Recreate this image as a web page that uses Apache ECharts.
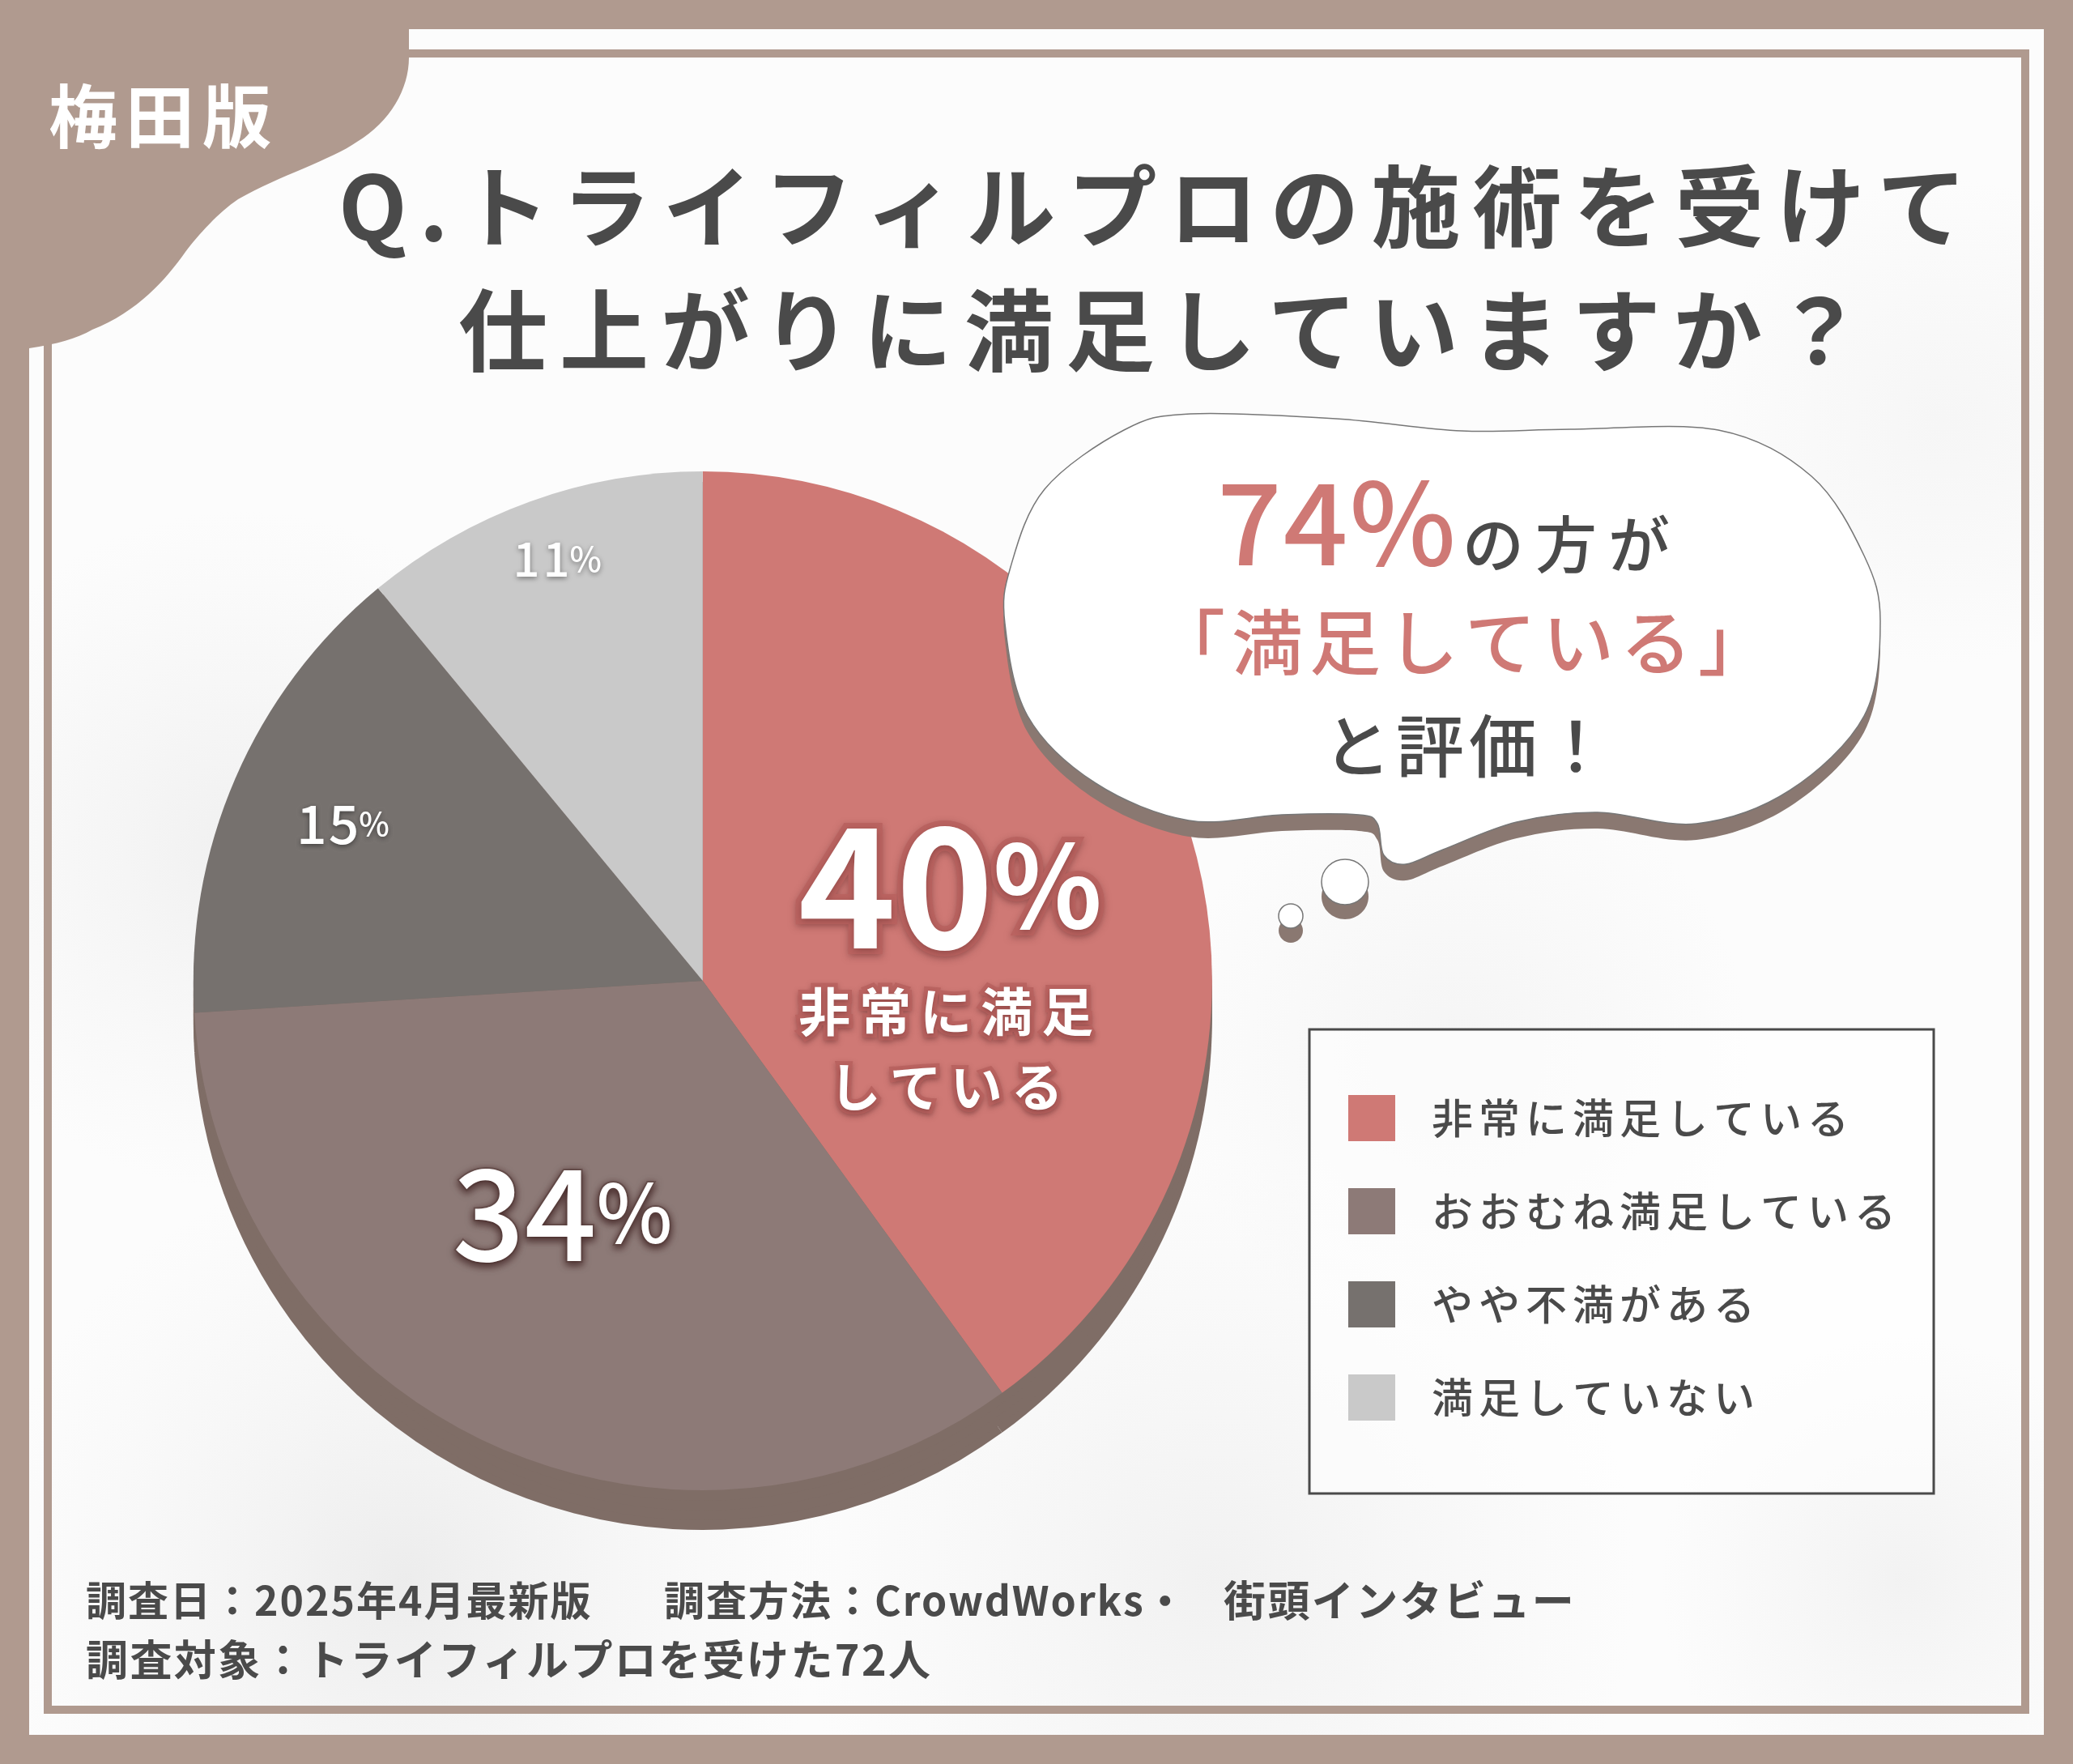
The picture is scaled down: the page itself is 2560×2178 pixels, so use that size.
<!DOCTYPE html>
<html>
<head>
<meta charset="utf-8">
<title>満足度</title>
<script src="https://cdn.jsdelivr.net/npm/echarts@6/dist/echarts.min.js"></script>
<style>
html,body{margin:0;padding:0;background:#b09a8f;}
#main{width:2560px;height:2178px;}
</style>
</head>
<body>
<div id="main"></div>
<script>
// data
var categories=['非常に満足している','おおむね満足している','やや不満がある','満足していない'];
var values=[40,34,15,11];
var sliceColors=['#cf7975','#8d7a77','#76716e','#c9c9c9'];
var topNoteLines=['非常に満足','している'];

var FONT='"Noto Sans CJK JP"';
var TEXT='#4a4a4a', RED='#cf7975', FRAME='#b09a8f', SIDE='#7f6d66';
var PIE_X=867.8, PIE_Y=1211, PIE_R=629;

// zrender has no letter spacing, so add it per font size
var letterSpacing={110:15,85:10,140:2,76:14,88:8,84:6,51:7,50:2,52:2.4,64:11,58:4,66:2};
['fillText','strokeText'].forEach(function(fn){
	var raw=CanvasRenderingContext2D.prototype[fn];
	CanvasRenderingContext2D.prototype[fn]=function(t,x,y){
		var m=/(\d+)px/.exec(this.font);
		this.letterSpacing=((m && letterSpacing[m[1]])||0)+'px';
		raw.call(this,t,x,y);
	};
});

// closed smooth outline through the given points
function smoothPath(pts){
	var n=pts.length, d='M'+pts[0][0]+' '+pts[0][1];
	for(var i=0;i<n;i++){
		var p0=pts[(i-1+n)%n],p1=pts[i],p2=pts[(i+1)%n],p3=pts[(i+2)%n];
		d+=' C'+(p1[0]+(p2[0]-p0[0])/6)+' '+(p1[1]+(p2[1]-p0[1])/6)+' '+
			(p2[0]-(p3[0]-p1[0])/6)+' '+(p2[1]-(p3[1]-p1[1])/6)+' '+p2[0]+' '+p2[1];
	}
	return d+' Z';
}

var bubbleOutline=[[1470,511],[1650,517],[1805,532],[1940,530],[2122,531],[2237,588],[2302,686],[2322,767],[2302,884],
	[2210,976],[2095,1017],[1973,1003],[1873,1015],[1782,1049],[1736,1067],[1709,1056],[1701,1017],[1678,1006],[1583,1006],
	[1468,1013],[1353,967],[1269,884],[1241,770],[1248,700],[1290,604],[1388,531]];

// graphic has no plain path type, register the outlines as shapes
echarts.graphic.registerShape('cornerTab',echarts.graphic.extendPath('M0 0 L505 0 L505 71 C505 110 482 150 441 175 C410 197 345 217 294 246 C270 262 245 290 229 311 C205 345 170 385 114 407 C95 418 70 425 36 430 L0 436 Z',{}));
echarts.graphic.registerShape('bubble',echarts.graphic.extendPath(smoothPath(bubbleOutline),{}));

function label(text,x,y,size,weight,fill,z){
	return {type:'text',x:x,y:y,z:z||6,silent:true,style:{
		text:text,fontFamily:FONT,fontSize:size,fontWeight:weight,fill:fill,align:'left',verticalAlign:'middle'
	}};
}
function softPatch(x,y,r,shade){
	return {type:'circle',z:0,silent:true,shape:{cx:x,cy:y,r:r},style:{fill:{
		type:'radial',x:0.5,y:0.5,r:0.5,
		colorStops:[{offset:0,color:shade},{offset:1,color:'rgba(238,238,238,0)'}]
	}}};
}

var graphicItems=[
	// card and inner frame
	{type:'rect',z:0,silent:true,shape:{x:36,y:36,width:2488,height:2106},style:{fill:'#fcfcfc'}},
	softPatch(300,1050,420,'rgba(232,232,232,.6)'),
	softPatch(500,1950,520,'rgba(226,226,226,.6)'),
	softPatch(1500,1950,520,'rgba(234,234,234,.6)'),
	softPatch(2350,1950,300,'rgba(236,236,236,.6)'),
	softPatch(1800,1300,360,'rgba(238,238,238,.5)'),
	softPatch(2400,520,300,'rgba(240,240,240,.5)'),
	{type:'rect',z:1,silent:true,shape:{x:18,y:18,width:2524,height:2142},style:{fill:'none',stroke:FRAME,lineWidth:36}},
	{type:'rect',z:1,silent:true,shape:{x:59,y:66,width:2442,height:2045},style:{fill:'none',stroke:FRAME,lineWidth:10}},
	// corner tab
	{type:'cornerTab',z:1,silent:true,style:{fill:FRAME}},
	label('梅田版',60,144,85,700,'#ffffff'),
	// title
	label('Q.トライフィルプロの施術を受けて',418,255,110,700,TEXT),
	label('仕上がりに満足していますか？',566,408,110,700,TEXT),
	// speech bubble
	{type:'bubble',z:5,y:20,silent:true,style:{fill:'#8a7871'}},
	{type:'bubble',z:5,silent:true,style:{fill:'#ffffff',stroke:'#777777',lineWidth:1.5}},
	{type:'ellipse',z:5,silent:true,shape:{cx:1661,cy:1107,rx:29,ry:28},style:{fill:'#8a7871'}},
	{type:'ellipse',z:5,silent:true,shape:{cx:1661,cy:1089,rx:29,ry:28},style:{fill:'#ffffff',stroke:'#777777',lineWidth:1.5}},
	{type:'ellipse',z:5,silent:true,shape:{cx:1594,cy:1149,rx:15,ry:15},style:{fill:'#8a7871'}},
	{type:'ellipse',z:5,silent:true,shape:{cx:1594,cy:1131,rx:15,ry:15},style:{fill:'#ffffff',stroke:'#777777',lineWidth:1.5}},
	label('74%',1503,645,140,500,RED),
	label('の方が',1806,672,76,500,TEXT),
	label('「満足している」',1425,793,88,500,RED),
	label('と評価！',1634,921,84,500,TEXT),
	// legend box
	{type:'rect',z:1,silent:true,shape:{x:1617,y:1271,width:771,height:573},style:{fill:'rgba(255,255,255,.55)',stroke:TEXT,lineWidth:3}},
	// notes
	label('調査日：2025年4月最新版',106,1976,50,700,TEXT),
	label('調査方法：CrowdWorks・',820,1976,50,700,TEXT),
	label('街頭インタビュー',1511,1976,52,700,TEXT),
	label('調査対象：トライフィルプロを受けた72人',106,2049,52,700,TEXT)
];

var pieData=categories.map(function(name,i){
	return {name:name,value:values[i],itemStyle:{color:sliceColors[i]}};
});
// big label on the first slice
pieData[0].label={
	formatter:'{n|'+values[0]+'}{p|%}\n{t1|'+topNoteLines[0]+'}\n{t2|'+topNoteLines[1]+'}',
	offset:[4,73],
	rich:{
		n:{fontFamily:FONT,fontSize:205,fontWeight:700,color:'#fff',textBorderColor:'#b9625f',textBorderWidth:14,lineHeight:218,textShadowColor:'rgba(110,50,50,.5)',textShadowBlur:8,textShadowOffsetY:3},
		p:{fontFamily:FONT,fontSize:140,fontWeight:700,color:'#fff',textBorderColor:'#b9625f',textBorderWidth:14,lineHeight:218,textShadowColor:'rgba(110,50,50,.5)',textShadowBlur:8,textShadowOffsetY:3},
		t1:{fontFamily:FONT,fontSize:64,fontWeight:700,color:'#fff',textBorderColor:'#b9625f',textBorderWidth:10,lineHeight:93,width:365,align:'center',textShadowColor:'rgba(110,50,50,.5)',textShadowBlur:6,textShadowOffsetY:3},
		t2:{fontFamily:FONT,fontSize:64,fontWeight:700,color:'#fff',textBorderColor:'#b9625f',textBorderWidth:10,lineHeight:93,width:330,align:'center',textShadowColor:'rgba(110,50,50,.5)',textShadowBlur:6,textShadowOffsetY:3}
	}
};
pieData[1].label={
	formatter:'{n|'+values[1]+'}{p|%}',
	offset:[-38,-1],
	rich:{
		n:{fontFamily:FONT,fontSize:156,fontWeight:500,color:'#fff',textBorderColor:'#6a5350',textBorderWidth:4,textShadowColor:'rgba(60,30,30,.8)',textShadowBlur:10,textShadowOffsetY:3},
		p:{fontFamily:FONT,fontSize:100,fontWeight:500,color:'#fff',textBorderColor:'#6a5350',textBorderWidth:4,textShadowColor:'rgba(60,30,30,.8)',textShadowBlur:10,textShadowOffsetY:3}
	}
};
pieData[2].label={
	formatter:'{n|'+values[2]+'}{p|%}',
	offset:[-152,-68],
	rich:{
		n:{fontFamily:FONT,fontSize:66,fontWeight:500,color:'#fff',textShadowColor:'rgba(40,40,40,.7)',textShadowBlur:6,textShadowOffsetY:2},
		p:{fontFamily:FONT,fontSize:40,fontWeight:500,color:'#fff',textShadowColor:'rgba(40,40,40,.7)',textShadowBlur:6,textShadowOffsetY:2}
	}
};
pieData[3].label={
	formatter:'{n|'+values[3]+'}{p|%}',
	offset:[-70,-222],
	rich:{
		n:{fontFamily:FONT,fontSize:58,fontWeight:500,color:'#fff',textShadowColor:'rgba(90,90,90,.8)',textShadowBlur:6,textShadowOffsetY:2},
		p:{fontFamily:FONT,fontSize:42,fontWeight:500,color:'#fff',textShadowColor:'rgba(90,90,90,.8)',textShadowBlur:6,textShadowOffsetY:2}
	}
};

// pie thickness: same slices pushed down in the side colour
var depths=[49,37,25,13];
var sideSeries=depths.map(function(d){
	return {
		type:'pie',z:2,silent:true,animation:false,
		center:[PIE_X,PIE_Y+d],radius:PIE_R,startAngle:90,
		label:{show:false},labelLine:{show:false},
		itemStyle:{color:SIDE},
		data:values.map(function(v){return {value:v};})
	};
});

var chart=echarts.init(document.getElementById('main'),null,{renderer:'canvas',width:2560,height:2178});
chart.setOption({
	animation:false,
	backgroundColor:FRAME,
	tooltip:{show:false},
	legend:{
		show:true,
		data:categories,
		orient:'vertical',
		left:1665,
		top:1352,
		icon:'rect',
		itemWidth:58,
		itemHeight:57,
		itemGap:58,
		padding:0,
		selectedMode:false,
		textStyle:{fontFamily:FONT,fontSize:51,fontWeight:500,color:TEXT,padding:[2,0,0,40]},
		z:6
	},
	graphic:{elements:graphicItems},
	series:[{
		type:'pie',
		z:3,
		silent:true,
		animation:false,
		center:[PIE_X,PIE_Y],
		radius:PIE_R,
		startAngle:90,
		avoidLabelOverlap:false,
		label:{show:true,position:'inside'},
		labelLine:{show:false},
		data:pieData
	}].concat(sideSeries)
});
</script>
</body>
</html>
